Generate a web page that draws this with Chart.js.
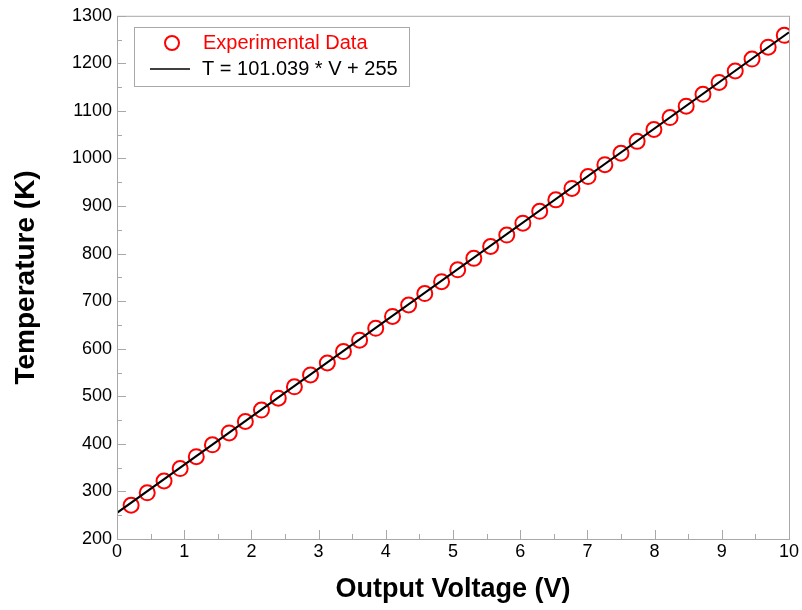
<!DOCTYPE html>
<html>
<head>
<meta charset="utf-8">
<script src="https://cdn.jsdelivr.net/npm/chart.js@4"></script>
<style>
  body { margin: 0; background: #fff; }
  #wrap { width: 802px; height: 610px; }
</style>
</head>
<body>
<div id="wrap"><canvas id="temp-chart" width="802" height="610"></canvas></div>
<script>
// measured output voltage (V) and temperature (K)
var voltage = [0.21, 0.45, 0.70, 0.94, 1.18, 1.42, 1.67, 1.91, 2.15, 2.40,
               2.64, 2.88, 3.13, 3.37, 3.61, 3.85, 4.10, 4.34, 4.58, 4.83,
               5.07, 5.31, 5.56, 5.80, 6.04, 6.29, 6.53, 6.77, 7.01, 7.26,
               7.50, 7.74, 7.99, 8.23, 8.47, 8.72, 8.96, 9.20, 9.45, 9.69, 9.93];
var temperature = [271, 297, 322, 348, 373, 398, 423, 447, 471, 496,
                   520, 545, 570, 594, 618, 643, 668, 692, 716, 741,
                   766, 790, 815, 839, 864, 889, 913, 937, 962, 987,
                   1011, 1036, 1061, 1086, 1110, 1135, 1160, 1184, 1209, 1234, 1259];

// fit line end points
var fitV = [0, 10];
var fitT = [255, 1265.39];

var dataLabel = 'Experimental Data';
var fitLabel = 'T = 101.039 * V + 255';

var pts = voltage.map(function (v, i) { return { x: v, y: temperature[i] }; });
var fitPts = fitV.map(function (v, i) { return { x: v, y: fitT[i] }; });

var FONT = '"Liberation Sans", Arial, sans-serif';

// plot box, inward ticks and legend box
var framePlugin = {
    id: 'frame',
    afterDraw: function (chart) {
        var c = chart.ctx, a = chart.chartArea;
        var xs = chart.scales.x, ys = chart.scales.y;
        c.save();
        c.strokeStyle = '#a8a8a8';
        c.lineWidth = 1;
        c.strokeRect(a.left + 0.5, a.top + 0.5, a.right - a.left, a.bottom - a.top);
        c.beginPath();
        for (var v = 0; v <= 10; v += 0.5) {
            var px = Math.round(xs.getPixelForValue(v)) + 0.5;
            var len = (v % 1 === 0) ? 9 : 5;
            c.moveTo(px, a.bottom);
            c.lineTo(px, a.bottom - len);
        }
        for (var t = 200; t <= 1300; t += 50) {
            var py = Math.round(ys.getPixelForValue(t)) + 0.5;
            var l2 = (t % 100 === 0) ? 9 : 5;
            c.moveTo(a.left, py);
            c.lineTo(a.left + l2, py);
        }
        c.stroke();

        // legend
        c.strokeStyle = '#a8a8a8';
        c.strokeRect(134.5, 27.5, 275, 59);
        c.strokeStyle = 'red';
        c.lineWidth = 2;
        c.beginPath();
        c.arc(172, 43, 7, 0, Math.PI * 2);
        c.stroke();
        c.strokeStyle = 'black';
        c.lineWidth = 1.5;
        c.beginPath();
        c.moveTo(150, 69);
        c.lineTo(190, 69);
        c.stroke();
        c.font = '20px ' + FONT;
        c.textBaseline = 'middle';
        c.fillStyle = 'red';
        c.fillText(dataLabel, 203, 43);
        c.fillStyle = 'black';
        c.fillText(fitLabel, 202, 69);
        c.restore();
    }
};

var ctx = document.getElementById('temp-chart').getContext('2d');
var chart = new Chart(ctx, {
    type: 'scatter',
    data: {
        datasets: [{
            label: dataLabel,
            data: pts,
            showLine: false,
            pointStyle: 'circle',
            pointRadius: 7.5,
            pointBorderWidth: 2,
            pointBorderColor: 'red',
            pointBackgroundColor: 'rgba(0,0,0,0)',
            order: 2
        }, {
            label: fitLabel,
            data: fitPts,
            showLine: true,
            borderColor: 'black',
            borderWidth: 2,
            pointRadius: 0,
            order: 1
        }]
    },
    options: {
        responsive: false,
        animation: false,
        layout: { padding: { top: 15, right: 13, left: 0, bottom: 0 } },
        plugins: {
            legend: { display: false },
            tooltip: { enabled: false }
        },
        scales: {
            x: {
                type: 'linear',
                min: 0,
                max: 10,
                grid: { display: false, drawTicks: false },
                border: { display: false },
                ticks: {
                    stepSize: 1,
                    color: 'black',
                    padding: 2,
                    font: { family: FONT, size: 18 },
                    maxRotation: 0,
                    callback: function (v) { return String(v); }
                },
                title: {
                    display: true,
                    text: 'Output Voltage (V)',
                    color: 'black',
                    font: { family: FONT, size: 27, weight: 'bold' },
                    padding: { top: 10, bottom: 4 }
                },
                afterFit: function (s) { s.height = 71; }
            },
            y: {
                type: 'linear',
                min: 200,
                max: 1300,
                grid: { display: false, drawTicks: false },
                border: { display: false },
                ticks: {
                    stepSize: 100,
                    color: 'black',
                    padding: 5,
                    font: { family: FONT, size: 18 },
                    callback: function (v) { return String(v); }
                },
                title: {
                    display: true,
                    text: 'Temperature (K)',
                    color: 'black',
                    font: { family: FONT, size: 28, weight: 'bold' },
                    padding: { top: 9, bottom: 0 }
                },
                afterFit: function (s) { s.width = 117; }
            }
        }
    },
    plugins: [framePlugin]
});
</script>
</body>
</html>
